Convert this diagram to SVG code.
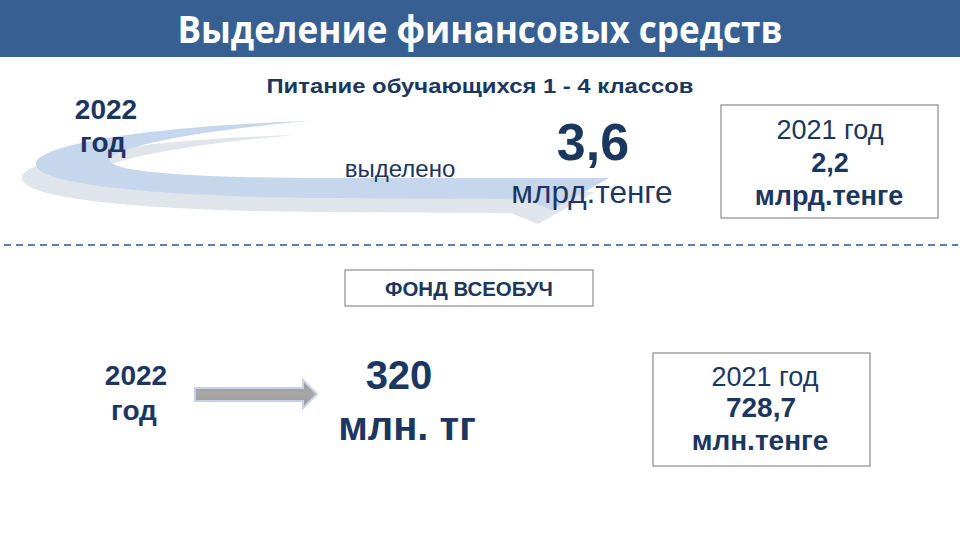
<svg xmlns="http://www.w3.org/2000/svg" width="960" height="540" viewBox="0 0 960 540">
<defs>
<style>
.t{font-family:"Liberation Sans",Arial,sans-serif;fill:#1b365f}
.b{font-weight:bold}
.box{fill:#fff;stroke:#8c8c8c;stroke-width:1.2}
</style>
<linearGradient id="ag" x1="0" y1="0" x2="0" y2="1">
<stop offset="0" stop-color="#9a9a9a"/><stop offset="0.5" stop-color="#a8a8a8"/><stop offset="1" stop-color="#959595"/>
</linearGradient>
<path id="sw" d="M310,121 C150,126 32,145 36,165 C40,186 170,197 330,198 L525,199 L552,210 L609,178 L515,178 L330,178 C200,178 108,172 110,160 C112,148 190,131 310,121 Z"/>
</defs>
<rect width="960" height="540" fill="#fff"/>
<g id="title">
<rect x="0" y="0" width="960" height="57" fill="#375f92"/>
<text x="480" y="43" text-anchor="middle" font-family="'Open Sans','Noto Sans',sans-serif" font-weight="bold" font-size="38" fill="#fff" textLength="605" lengthAdjust="spacingAndGlyphs">Выделение финансовых средств</text>
</g>
<g id="subtitle">
<text class="t b" x="480" y="93" text-anchor="middle" font-size="21" textLength="427" lengthAdjust="spacingAndGlyphs">Питание обучающихся 1 - 4 классов</text>
</g>
<g id="swoosh">
<use href="#sw" transform="translate(-14,14)" fill="#dfe5ea"/>
<use href="#sw" fill="#c6d6ed"/>
</g>
<g id="year1">
<text class="t b" x="106" y="119" text-anchor="middle" font-size="28">2022</text>
<text class="t b" x="103" y="152" text-anchor="middle" font-size="28">год</text>
</g>
<g id="allocated">
<text class="t" x="400" y="177" text-anchor="middle" font-size="24">выделено</text>
</g>
<g id="value1">
<text class="t b" x="593" y="160" text-anchor="middle" font-size="52">3,6</text>
<text class="t" x="592" y="203" text-anchor="middle" font-size="31.5">млрд.тенге</text>
</g>
<g id="box2021a">
<rect class="box" x="721" y="105" width="217" height="113"/>
<text class="t" x="830" y="139" text-anchor="middle" font-size="27">2021 год</text>
<text class="t b" x="830" y="172" text-anchor="middle" font-size="27">2,2</text>
<text class="t b" x="829" y="205" text-anchor="middle" font-size="27">млрд.тенге</text>
</g>
<g id="divider">
<line x1="4" y1="245" x2="958" y2="245" stroke="#5a80b3" stroke-width="2" stroke-dasharray="7,5"/>
</g>
<g id="fund">
<rect class="box" x="345" y="270" width="248" height="36"/>
<text class="t b" x="469" y="296" text-anchor="middle" font-size="21" textLength="168" lengthAdjust="spacingAndGlyphs">ФОНД ВСЕОБУЧ</text>
</g>
<g id="year2">
<text class="t b" x="136" y="385" text-anchor="middle" font-size="28">2022</text>
<text class="t b" x="134" y="420" text-anchor="middle" font-size="28">год</text>
</g>
<g id="connectors">
<path d="M195,388 L303,388 L303,380 L317,394 L303,408 L303,401 L195,401 Z" fill="url(#ag)" stroke="#c7d2e4" stroke-width="2" stroke-linejoin="miter"/>
</g>
<g id="value2">
<text class="t b" x="399" y="389" text-anchor="middle" font-size="40">320</text>
<text class="t b" x="407" y="440" text-anchor="middle" font-size="40">млн. тг</text>
</g>
<g id="box2021b">
<rect class="box" x="653" y="353" width="217" height="113"/>
<text class="t" x="765" y="386" text-anchor="middle" font-size="27">2021 год</text>
<text class="t b" x="761" y="417" text-anchor="middle" font-size="28">728,7</text>
<text class="t b" x="760" y="450" text-anchor="middle" font-size="28">млн.тенге</text>
</g>
</svg>
